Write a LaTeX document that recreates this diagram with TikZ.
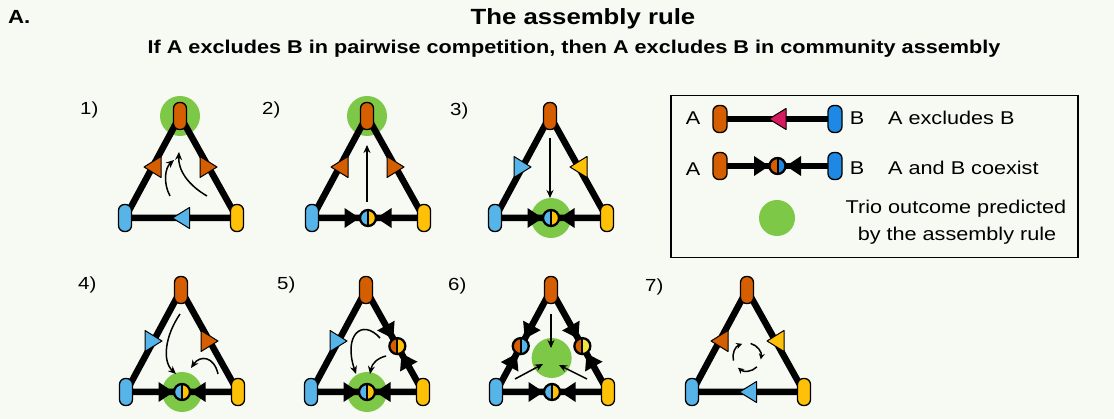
\documentclass[tikz,border=0pt]{standalone}
\usepackage{fontspec}
\setmainfont{Liberation Sans}[FakeStretch=1.17]
\usetikzlibrary{arrows.meta,calc}

\definecolor{bgc}{RGB}{247,249,243}
\definecolor{sporange}{RGB}{213,94,0}
\definecolor{spblue}{RGB}{86,180,233}
\definecolor{spyellow}{RGB}{255,193,7}
\definecolor{palyellow}{RGB}{240,228,66}
\definecolor{legblue}{RGB}{30,136,229}
\definecolor{winpink}{RGB}{216,27,96}
\definecolor{rulegreen}{RGB}{125,200,70}

\pgfdeclarelayer{back}
\pgfdeclarelayer{halo}
\pgfdeclarelayer{edges}
\pgfsetlayers{back,halo,edges,main}

\tikzset{
  pill/.style={draw=black, line width=1.3pt, rounded corners=6pt,
    minimum width=13pt, minimum height=27pt, inner sep=0pt},
  link/.style={line width=6.5pt, line join=round},
  flow/.style={line width=1.5pt, -{Stealth[length=8pt,width=7pt]}},
  cyc/.style={line width=1.5pt, -{Stealth[length=6pt,width=6pt]}},
  lab/.style={font=\fontsize{17.5}{20}\selectfont, anchor=base west, inner sep=0pt},
  legtxt/.style={font=\fontsize{18.5}{22}\selectfont, inner sep=0pt},
  pics/win/.style={code={%
    \path[draw=black, line width=1pt, line join=round, fill=#1]
      (8.5,0) -- (-8.5,-10.5) -- (-8.5,10.5) -- cycle;}},
  pics/head/.style={code={%
    \fill[black] (-8.5,0) -- (-23.5,-10) -- (-23.5,10) -- cycle;}},
  pics/coex/.style 2 args={code={%
    \fill[#1] (0,8) arc[start angle=90,end angle=270,radius=8] -- cycle;
    \fill[#2] (0,-8) arc[start angle=-90,end angle=90,radius=8] -- cycle;
    \draw[line width=2pt] (0,-8) -- (0,8);
    \draw[line width=2.3pt] (0,0) circle[radius=8];}},
}

% three species on a triangle: name, x of the top species, y of the top species
\newcommand\trio[3]{%
  \node[pill, fill=sporange] (#1t) at (#2,#3) {};
  \node[pill, fill=spblue] (#1l) at ({#2-55},{#3+102}) {};
  \node[pill, fill=spyellow] (#1r) at ({#2+57},{#3+102}) {};
  \begin{pgfonlayer}{edges}
    \draw[link] (#1t.center) -- (#1l.center) -- (#1r.center) -- cycle;
  \end{pgfonlayer}
  \coordinate (#1mL) at ($(#1t.center)!0.5!(#1l.center)$);
  \coordinate (#1mR) at ($(#1t.center)!0.5!(#1r.center)$);
  \coordinate (#1mB) at ($(#1l.center)!0.5!(#1r.center)$);
  \coordinate (#1cL) at ($(#1t.center)!0.55!(#1l.center)$);
  \coordinate (#1cR) at ($(#1t.center)!0.55!(#1r.center)$);
  \coordinate (#1g) at ($(#1t.center)!0.6667!(#1mB)$);
}
\newcommand\halo[1]{%
  \begin{pgfonlayer}{halo}\fill[rulegreen] (#1) circle[radius=20];\end{pgfonlayer}}

\begin{document}
\begin{tikzpicture}[x=1pt,y=-1pt]
\useasboundingbox (0,0) rectangle (1114,419);
\begin{pgfonlayer}{back}
  \fill[bgc] (0,0) rectangle (1114,419);
\end{pgfonlayer}

% headings
\node[font=\bfseries\fontsize{19}{22}\selectfont, anchor=base west, inner sep=0pt] (tag) at (8,24) {A.};
\node[font=\bfseries\fontsize{22}{26}\selectfont, anchor=base, inner sep=0pt] (title) at (583,25) {The assembly rule};
\node[font=\bfseries\fontsize{18.5}{22}\selectfont, anchor=base, inner sep=0pt] (subtitle) at (574,54)
  {If A excludes B in pairwise competition, then A excludes B in community assembly};

% panel labels
\node[lab] (n1) at (80,115) {1)};
\node[lab] (n2) at (262,115) {2)};
\node[lab] (n3) at (450,116) {3)};
\node[lab] (n4) at (78,290) {4)};
\node[lab] (n5) at (277,290) {5)};
\node[lab] (n6) at (448,291) {6)};
\node[lab] (n7) at (645,292) {7)};

% 1) orange wins both pairs
\trio{pa}{180}{116}
\halo{pat}
\pic[rotate=180] at (pamL) {win=sporange};
\pic at (pamR) {win=sporange};
\pic[rotate=180] at (pamB) {win=spblue};
\begin{scope}[shift={(pat)}]
  \draw[flow] (-10,80) .. controls (-17,67) and (-15,52) .. (-6,44);
  \draw[flow] (27,80) .. controls (8,69) and (-2,54) .. (-1,36);
\end{scope}

% 2)
\trio{pb}{367}{116}
\halo{pbt}
\pic[rotate=180] at (pbmL) {win=sporange};
\pic at (pbmR) {win=sporange};
\pic at (pbmB) {head};
\pic[rotate=180] at (pbmB) {head};
\pic at (pbmB) {coex={spblue}{spyellow}};
\draw[flow] ($(pbt)+(0,86)$) -- ($(pbt)+(0,29)$);

% 3)
\trio{pc}{550}{116}
\halo{pcmB}
\pic at (pcmL) {win=spblue};
\pic[rotate=180] at (pcmR) {win=spyellow};
\pic at (pcmB) {head};
\pic[rotate=180] at (pcmB) {head};
\pic at (pcmB) {coex={spblue}{spyellow}};
\draw[flow] ($(pct)+(0,22)$) -- ($(pct)+(0,82)$);

% 4)
\trio{pd}{181}{290}
\halo{pdmB}
\pic at (pdmL) {win=spblue};
\pic at (pdmR) {win=sporange};
\pic at (pdmB) {head};
\pic[rotate=180] at (pdmB) {head};
\pic at (pdmB) {coex={spblue}{spyellow}};
\begin{scope}[shift={(pdt)}]
  \draw[flow] (-1,24) .. controls (-16,46) and (-19,71) .. (-5,84);
  \draw[flow] (37,84) .. controls (33,66) and (19,65) .. (10,78);
\end{scope}

% 5)
\trio{pe}{366}{290}
\halo{pemB}
\pic at (pemL) {win=spblue};
\pic[rotate=299.2] at (pecR) {head};
\pic[rotate=119.2] at (pecR) {head};
\pic at (pecR) {coex={sporange}{spyellow}};
\pic at (pemB) {head};
\pic[rotate=180] at (pemB) {head};
\pic at (pemB) {coex={spblue}{spyellow}};
\begin{scope}[shift={(pet)}]
  \draw[flow] (14,48) .. controls (-4,28) and (-23,45) .. (-10,84);
  \draw[flow] (20,66) .. controls (12,68) and (6,73) .. (4,84);
\end{scope}

% 6)
\trio{pf}{551}{290}
\halo{pfg}
\pic[rotate=241.7] at (pfcL) {head};
\pic[rotate=61.7] at (pfcL) {head};
\pic at (pfcL) {coex={sporange}{spblue}};
\pic[rotate=299.2] at (pfcR) {head};
\pic[rotate=119.2] at (pfcR) {head};
\pic at (pfcR) {coex={sporange}{palyellow}};
\pic at (pfmB) {head};
\pic[rotate=180] at (pfmB) {head};
\pic at (pfmB) {coex={spblue}{spyellow}};
\begin{scope}[shift={(pft)}]
  \draw[flow] (0,24) -- (0,58);
  \draw[flow] (-36,89) -- (-8,74);
  \draw[flow] (36,89) -- (8,75);
\end{scope}

% 7) rock-paper-scissors
\trio{pg}{747}{290}
\pic[rotate=180] at (pgmL) {win=sporange};
\pic[rotate=180] at (pgmR) {win=spyellow};
\pic[rotate=180] at (pgmB) {win=spblue};
\coordinate (pgo) at ($(pgt)+(0,67)$);
\draw[cyc] (pgo) ++(165:14) arc[start angle=165,end angle=250,radius=14];
\draw[cyc] (pgo) ++(285:14) arc[start angle=285,end angle=370,radius=14];
\draw[cyc] (pgo) ++(45:14) arc[start angle=45,end angle=130,radius=14];

% legend
\node[draw, line width=1.5pt, minimum width=407pt, minimum height=162pt, anchor=north west, inner sep=0pt]
  (legend) at (670,95) {};
\node[pill, minimum width=14pt, fill=sporange] (la) at (720,119) {};
\node[pill, minimum width=14pt, fill=legblue] (lb) at (835,119) {};
\begin{pgfonlayer}{edges}\draw[link] (la.center) -- (lb.center);\end{pgfonlayer}
\coordinate (lab1) at ($(la.center)!0.5!(lb.center)$);
\pic[rotate=180] at (lab1) {win=winpink};
\node[legtxt, anchor=base] (lA1) at (693,125) {A};
\node[legtxt, anchor=base] (lB1) at (857,125) {B};
\node[legtxt, anchor=base west] (lt1) at (888,125) {A excludes B};

\node[pill, minimum width=14pt, fill=sporange] (lc) at (720,166) {};
\node[pill, minimum width=14pt, fill=legblue] (ld) at (835,166) {};
\begin{pgfonlayer}{edges}\draw[link] (lc.center) -- (ld.center);\end{pgfonlayer}
\coordinate (lab2) at ($(lc.center)!0.5!(ld.center)$);
\pic at (lab2) {head};
\pic[rotate=180] at (lab2) {head};
\pic at (lab2) {coex={sporange}{legblue}};
\node[legtxt, anchor=base] (lA2) at (693,176) {A};
\node[legtxt, anchor=base] (lB2) at (857,175) {B};
\node[legtxt, anchor=base west] (lt2) at (888,175) {A and B coexist};

\node[circle, fill=rulegreen, minimum size=36pt, inner sep=0pt] (lg) at (777,218) {};
\node[legtxt, anchor=base] (lt3) at (956,214) {Trio outcome predicted};
\node[legtxt, anchor=base] (lt4) at (957,241) {by the assembly rule};
\end{tikzpicture}
\end{document}
